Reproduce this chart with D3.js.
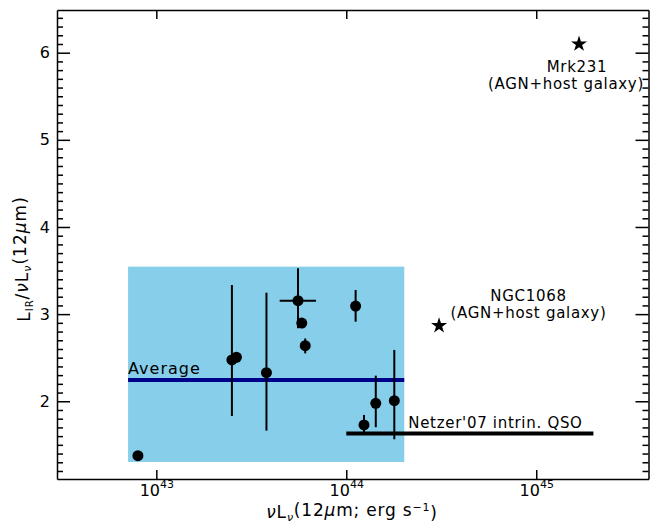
<!DOCTYPE html>
<html><head><meta charset="utf-8">
<script src="https://cdn.jsdelivr.net/npm/d3@7"></script>
<style>
body{margin:0;background:#fff;}
text{font-family:"DejaVu Sans",sans-serif;fill:#000;}
</style></head>
<body>
<svg id="c" width="651" height="523"></svg>
<script>
// ---- data ----
const xDomain = [3e42, 3.9e45];
const yDomain = [1.108, 6.49];
const xTicks = [1e43, 1e44, 1e45];
const xTickExps = ["43", "44", "45"];
const yTicks = [2, 3, 4, 5, 6];
const ptX   = [8.0e42, 2.5e43, 2.64e43, 3.8e43, 5.57e43, 5.83e43, 6.08e43, 1.12e44, 1.24e44, 1.43e44, 1.79e44];
const ptY   = [1.376, 2.474, 2.505, 2.328, 3.154, 2.898, 2.638, 3.093, 1.728, 1.977, 2.007];
const ptYLo = [null, 1.831, null, 1.663, 2.838, null, 2.55, 2.913, 1.62, 1.702, 1.564];
const ptYHi = [null, 3.334, null, 3.246, 3.526, null, 2.72, 3.277, 1.843, 2.294, 2.589];
const ptXLo = [null, null, null, null, 4.46e43, null, null, null, null, null, null];
const ptXHi = [null, null, null, null, 6.93e43, null, null, null, null, null, null];
const boxX = [7.1e42, 2.02e44];
const boxY = [1.303, 3.545];
const avgY = 2.245;
const netzerX = [1.0e44, 2.0e45];
const netzerY = 1.63;
const starNames = ["Mrk231", "NGC1068"];
const starX = [1.68e45, 3.08e44];
const starY = [6.1, 2.867];
const starNote = "(AGN+host galaxy)";

// ---- layout ----
const L = 57, R = 648.5, T = 10, B = 479;
const svg = d3.select("#c");
const x = d3.scaleLog().domain(xDomain).range([L, R]);
const y = d3.scaleLinear().domain(yDomain).range([B, T]);

// shaded box
svg.append("rect")
  .attr("x", x(boxX[0])).attr("y", y(boxY[1]))
  .attr("width", x(boxX[1]) - x(boxX[0])).attr("height", y(boxY[0]) - y(boxY[1]))
  .attr("fill", "#87CEEB");

// average line
svg.append("line").attr("x1", x(boxX[0])).attr("x2", x(boxX[1]))
  .attr("y1", y(avgY)).attr("y2", y(avgY))
  .attr("stroke", "#00008B").attr("stroke-width", 4);
svg.append("text").attr("x", x(boxX[0])).attr("y", y(avgY) - 6)
  .attr("font-size", 16).attr("letter-spacing", 1).text("Average");

// netzer line
svg.append("line").attr("x1", x(netzerX[0])).attr("x2", x(netzerX[1]))
  .attr("y1", y(netzerY)).attr("y2", y(netzerY))
  .attr("stroke", "#000").attr("stroke-width", 4);
svg.append("text").attr("x", x(netzerX[0]) + 62).attr("y", y(netzerY) - 6)
  .attr("font-size", 15).attr("letter-spacing", 0.7).text("Netzer'07 intrin. QSO");

// error bars
const idx = d3.range(ptX.length);
svg.append("g").selectAll("line.ey").data(idx.filter(i => ptYLo[i] !== null)).join("line")
  .attr("x1", i => x(ptX[i])).attr("x2", i => x(ptX[i]))
  .attr("y1", i => y(ptYLo[i])).attr("y2", i => y(ptYHi[i]))
  .attr("stroke", "#000").attr("stroke-width", 2);
svg.append("g").selectAll("line.ex").data(idx.filter(i => ptXLo[i] !== null)).join("line")
  .attr("x1", i => x(ptXLo[i])).attr("x2", i => x(ptXHi[i]))
  .attr("y1", i => y(ptY[i])).attr("y2", i => y(ptY[i]))
  .attr("stroke", "#000").attr("stroke-width", 2);
// points
svg.append("g").selectAll("circle").data(idx).join("circle")
  .attr("cx", i => x(ptX[i])).attr("cy", i => y(ptY[i])).attr("r", 5.5).attr("fill", "#000");

// stars
const star = d3.symbol().type(d3.symbolStar).size(80);
starNames.forEach((n, i) => {
  svg.append("path").attr("d", star)
    .attr("transform", `translate(${x(starX[i])},${y(starY[i])})`).attr("fill", "#000");
});
function note(xp, yp, s) {
  svg.append("text").attr("x", xp).attr("y", yp).attr("text-anchor", "middle")
    .attr("font-size", 15).attr("letter-spacing", 0.7).text(s);
}
note(577, 72, starNames[0]);
note(566, 88.5, starNote);
note(528.5, 301, starNames[1]);
note(528.5, 317.5, starNote);

// axes
const minorY = d3.range(12, 65).map(v => v / 10).filter(v => v >= yDomain[0] && v <= yDomain[1] && Math.abs(v - Math.round(v)) > 1e-6);
function styleAxis(g) {
  g.select(".domain").attr("stroke", "#000").attr("stroke-width", 1.5);
  g.selectAll(".tick line").attr("stroke", "#000").attr("stroke-width", 1.5);
}
// bottom
const gB = svg.append("g").attr("transform", `translate(0,${B})`)
  .call(d3.axisBottom(x).tickValues(xTicks).tickSize(-9).tickPadding(1).tickSizeOuter(0).tickFormat(() => ""));
styleAxis(gB);
gB.selectAll(".tick text").each(function(d, i) {
  const t = d3.select(this).attr("font-size", 16).attr("font-family", "DejaVu Sans").attr("dy", "1.0em").text("");
  t.append("tspan").text("10");
  t.append("tspan").attr("font-size", 11).attr("dy", "-0.7em").text(xTickExps[i]);
});
// top
const gT = svg.append("g").attr("transform", `translate(0,${T})`)
  .call(d3.axisTop(x).tickValues(xTicks).tickSize(-9).tickSizeOuter(0).tickFormat(() => ""));
styleAxis(gT);
// left
const gL = svg.append("g").attr("transform", `translate(${L},0)`)
  .call(d3.axisLeft(y).tickValues(yTicks).tickSize(-13).tickPadding(7).tickSizeOuter(0).tickFormat(d3.format("d")));
styleAxis(gL);
gL.selectAll(".tick text").attr("font-size", 16).attr("font-family", "DejaVu Sans");
svg.append("g").attr("transform", `translate(${L},0)`)
  .call(d3.axisLeft(y).tickValues(minorY).tickSize(-6).tickSizeOuter(0).tickFormat(() => ""))
  .call(g => { g.select(".domain").remove(); g.selectAll(".tick line").attr("stroke", "#000").attr("stroke-width", 1.5); });
// right
const gR = svg.append("g").attr("transform", `translate(${R},0)`)
  .call(d3.axisRight(y).tickValues(yTicks).tickSize(-13).tickSizeOuter(0).tickFormat(() => ""));
styleAxis(gR);
svg.append("g").attr("transform", `translate(${R},0)`)
  .call(d3.axisRight(y).tickValues(minorY).tickSize(-6).tickSizeOuter(0).tickFormat(() => ""))
  .call(g => { g.select(".domain").remove(); g.selectAll(".tick line").attr("stroke", "#000").attr("stroke-width", 1.5); });

// axis titles
const xt = svg.append("text").attr("x", 352).attr("y", 518).attr("text-anchor", "middle")
  .attr("font-size", 17).attr("letter-spacing", 0.8);
xt.append("tspan").attr("font-style", "italic").text("ν");
xt.append("tspan").text("L");
xt.append("tspan").attr("font-size", 11).attr("dy", "0.3em").attr("font-style", "italic").text("ν");
xt.append("tspan").attr("dy", "-0.3em").text("(12");
xt.append("tspan").attr("font-style", "italic").text("μ");
xt.append("tspan").text("m; erg s");
xt.append("tspan").attr("font-size", 11).attr("dy", "-0.5em").text("−1");
xt.append("tspan").attr("dy", "0.5em").text(")");

const yt = svg.append("text").attr("transform", "translate(30,259) rotate(-90)").attr("text-anchor", "middle")
  .attr("font-size", 17).attr("letter-spacing", 1);
yt.append("tspan").text("L");
yt.append("tspan").attr("font-size", 10).attr("dy", "0.3em").text("IR");
yt.append("tspan").attr("dy", "-0.3em").text("/");
yt.append("tspan").attr("font-style", "italic").text("ν");
yt.append("tspan").text("L");
yt.append("tspan").attr("font-size", 11).attr("dy", "0.3em").attr("font-style", "italic").text("ν");
yt.append("tspan").attr("dy", "-0.3em").text("(12");
yt.append("tspan").attr("font-style", "italic").text("μ");
yt.append("tspan").text("m)");
</script>
</body></html>
